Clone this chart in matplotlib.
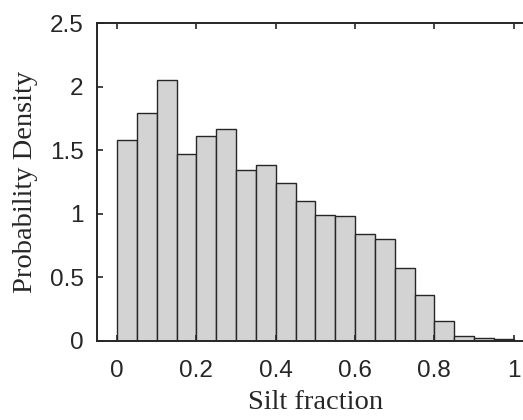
import matplotlib
matplotlib.use('Agg')
import matplotlib.pyplot as plt
import numpy as np

# bin edges (width 0.05) and probability density per bin
bin_edges = np.linspace(0, 1, 21)
density = [1.58, 1.79, 2.05, 1.47, 1.61, 1.67, 1.34, 1.38, 1.24, 1.10,
           0.99, 0.98, 0.84, 0.80, 0.57, 0.36, 0.155, 0.04, 0.017, 0.01]
x_ticks = [0, 0.2, 0.4, 0.6, 0.8, 1]
x_tick_labels = ['0', '0.2', '0.4', '0.6', '0.8', '1']
y_ticks = [0, 0.5, 1, 1.5, 2, 2.5]
y_tick_labels = ['0', '0.5', '1', '1.5', '2', '2.5']

fig = plt.figure(figsize=(5.23, 4.2), dpi=100)
ax = fig.add_axes([0.186, 0.189, 0.834, 0.756])

ax.bar(bin_edges[:-1], density, width=np.diff(bin_edges), align='edge',
       color='#d3d3d3', edgecolor='#262626', linewidth=1.0)

ax.set_xlim(-0.05, 1.05)
ax.set_ylim(0, 2.5)
ax.set_xticks(x_ticks)
ax.set_xticklabels(x_tick_labels)
ax.set_yticks(y_ticks)
ax.set_yticklabels(y_tick_labels)

for lbl in ax.get_xticklabels() + ax.get_yticklabels():
    lbl.set_fontfamily('Liberation Sans')
    lbl.set_fontsize(17.5)
    lbl.set_color('#262626')

ax.tick_params(direction='in', length=4, width=1.2, top=True, right=True,
               color='#262626')
ax.tick_params(axis='x', pad=14)
ax.tick_params(axis='y', pad=10)
for sp in ax.spines.values():
    sp.set_linewidth(1.4)
    sp.set_color('#262626')

ax.set_xlabel('Silt fraction', fontfamily='Liberation Serif', fontsize=20.5,
              color='#262626', labelpad=6)
ax.set_ylabel('Probability Density', fontfamily='Liberation Serif', fontsize=20.5,
              color='#262626', labelpad=8)

fig.savefig('out.png', dpi=100)
